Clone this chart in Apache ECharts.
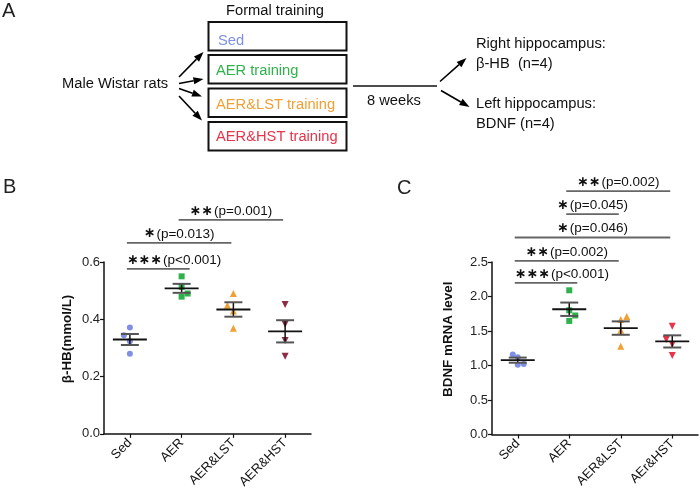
<!DOCTYPE html>
<html><head><meta charset="utf-8">
<script src="https://cdn.jsdelivr.net/npm/echarts@6/dist/echarts.min.js"></script>
<style>html,body{margin:0;padding:0;background:#fff}#c{width:700px;height:491px}</style>
</head><body><div id="c"></div>
<script>
// ---------- data ----------
const categoriesB = ['Sed', 'AER', 'AER&LST', 'AER&HST'];
const categoriesC = ['Sed', 'AER', 'AER&LST', 'AEr&HST'];
// beta-HB (mmol/L), panel B
const hbSed = [0.371, 0.344, 0.323, 0.280];
const hbAER = [0.550, 0.513, 0.490, 0.479];
const hbLST = [0.490, 0.449, 0.429, 0.369];
const hbHST = [0.452, 0.383, 0.326, 0.271];
// BDNF mRNA level, panel C
const bdnfSed = [1.16, 1.12, 1.01, 1.02];
const bdnfAER = [2.09, 1.80, 1.725, 1.646];
const bdnfLST = [1.71, 1.667, 1.512, 1.28];
const bdnfHST = [1.57, 1.377, 1.304, 1.145];
// y axis ticks
const ticksB = [0, 0.2, 0.4, 0.6];
const ticksC = [0, 0.5, 1.0, 1.5, 2.0, 2.5];
// significance brackets: [fromIndex, toIndex, level, stars, p-text]
const bracketsB = [
  [0, 1, 0.576, '∗∗∗', '(p<0.001)'],
  [0, 2, 0.667, '∗', '(p=0.013)'],
  [1, 3, 0.747, '∗∗', '(p=0.001)']
];
const bracketsC = [
  [0, 1, 2.197, '∗∗∗', '(p<0.001)'],
  [0, 2, 2.516, '∗∗', '(p=0.002)'],
  [0, 3, 2.855, '∗', '(p=0.046)'],
  [1, 2, 3.193, '∗', '(p=0.045)'],
  [1, 3, 3.526, '∗∗', '(p=0.002)']
];

// ---------- styles / layout ----------
const FONT = 'Liberation Sans, Arial, sans-serif';
const colB = ['#7f8fe6', '#2fb24c', '#f0a035', '#8c2e45'];
const colC = ['#7f8fe6', '#2fb24c', '#f0a035', '#e8334a'];
const symbols = ['circle', 'rect', 'triangle', 'path://M0,0 L10,0 L5,9 Z'];
const symSizes = [6, 6, 7, 7];
// horizontal dodge (px) of overlapping dots, as in the scatter plot
const dodgeB = [[0, -6, 0, 0], [0, 0, 6, 0], [0, -6, 0, 0], [0, 0, 0, 0]];
const dodgeC = [[-5, 0, 0, 6], [0, 0, 6, 0], [6, 0, 0, 0], [0, -6, 0, 0]];

function stats(a) {
  const n = a.length, m = a.reduce((s, v) => s + v, 0) / n;
  const sd = Math.sqrt(a.reduce((s, v) => s + (v - m) * (v - m), 0) / (n - 1));
  return [m, sd / Math.sqrt(n)];
}

const groupsB = [hbSed, hbAER, hbLST, hbHST];
const groupsC = [bdnfSed, bdnfAER, bdnfLST, bdnfHST];

function scatterSeries(groups, cols, dodge, gi) {
  return groups.map((g, i) => ({
    type: 'scatter', xAxisIndex: gi, yAxisIndex: gi,
    symbol: symbols[i], symbolSize: symSizes[i],
    itemStyle: { color: cols[i], opacity: 1 },
    data: g.map((v, k) => ({ value: [i, v], symbolOffset: [dodge[i][k], 0] })),
    z: 3
  }));
}

function meanSemSeries(groups, gi) {
  return {
    type: 'custom', xAxisIndex: gi, yAxisIndex: gi, z: 4,
    data: groups.map((g, i) => { const s = stats(g); return [i, s[0], s[1]]; }),
    renderItem: function (params, api) {
      const i = api.value(0), m = api.value(1), e = api.value(2);
      const p = api.coord([i, m]), hi = api.coord([i, m + e]), lo = api.coord([i, m - e]);
      return {
        type: 'group', children: [
          { type: 'line', shape: { x1: p[0], y1: hi[1], x2: p[0], y2: lo[1] }, style: { stroke: '#111', lineWidth: 1.5 } },
          { type: 'line', shape: { x1: p[0] - 9, y1: hi[1], x2: p[0] + 9, y2: hi[1] }, style: { stroke: '#555', lineWidth: 2 } },
          { type: 'line', shape: { x1: p[0] - 9, y1: lo[1], x2: p[0] + 9, y2: lo[1] }, style: { stroke: '#555', lineWidth: 2 } },
          { type: 'line', shape: { x1: p[0] - 17, y1: p[1], x2: p[0] + 17, y2: p[1] }, style: { stroke: '#111', lineWidth: 1.8 } }
        ]
      };
    }
  };
}

function bracketSeries(brackets, gi) {
  return {
    type: 'custom', xAxisIndex: gi, yAxisIndex: gi, z: 5, clip: false,
    data: brackets.map(b => [b[0], b[1], b[2]]),
    renderItem: function (params, api) {
      const a = api.value(0), b = api.value(1), y = api.value(2);
      const br = brackets[params.dataIndex];
      const pa = api.coord([a, y]), pb = api.coord([b, y]);
      const adjacent = (b - a) === 1 && a === 0;
      const x1 = pa[0] - 3, x2 = adjacent ? pb[0] + 8 : pb[0] - 2;
      return {
        type: 'group', children: [
          { type: 'line', shape: { x1: x1, y1: pa[1], x2: x2, y2: pa[1] }, style: { stroke: '#666', lineWidth: 1.8 } },
          { type: 'text', style: {
              text: '{s|' + br[3] + '}' + br[4], x: adjacent ? x1 : (x1 + x2) / 2, y: pa[1] - 2,
              textAlign: adjacent ? 'left' : 'center', textVerticalAlign: 'bottom',
              font: '13.5px ' + FONT, fill: '#111',
              rich: { s: { fontFamily: 'DejaVu Sans', fontWeight: 'bold', fontSize: 14, fill: '#111', padding: [0, 1, 0, 0] } } } }
        ]
      };
    }
  };
}

// ---------- panel A diagram ----------
function arrow(x1, y1, x2, y2) {
  const ang = Math.atan2(y2 - y1, x2 - x1), L = 10, W = 3.6;
  const bx = x2 - L * Math.cos(ang), by = y2 - L * Math.sin(ang);
  const nx = -Math.sin(ang) * W, ny = Math.cos(ang) * W;
  return [
    { type: 'line', shape: { x1: x1, y1: y1, x2: bx, y2: by }, style: { stroke: '#000', lineWidth: 1.6 } },
    { type: 'polygon', shape: { points: [[x2, y2], [bx + nx, by + ny], [bx - nx, by - ny]] }, style: { fill: '#000' } }
  ];
}
const boxLabels = ['Sed', 'AER training', 'AER&LST training', 'AER&HST training'];
const boxColors = ['#7f8fe6', '#2fb24c', '#f0a035', '#e8334a'];
const boxTops = [22, 55, 88.5, 122];
const boxTextDy = [19, 16, 16, 14.5];
const graphics = [];
function txt(t, x, y, size, color, align, weight) {
  graphics.push({ type: 'text', style: { text: t, x: x, y: y, font: (weight || 'normal') + ' ' + size + 'px ' + FONT, fill: color || '#111', textAlign: align || 'left', textVerticalAlign: 'middle' } });
}
const FA = 14.7;
txt('A', 2, 11, 20, '#222');
txt('B', 3, 187, 20, '#222');
txt('C', 397, 188, 20, '#222');
txt('Formal training', 275, 11, FA, '#111', 'center');
boxTops.forEach((t, i) => {
  graphics.push({ type: 'rect', shape: { x: 208.5, y: t, width: 138, height: 28.5 }, style: { fill: 'none', stroke: '#111', lineWidth: 2 } });
  txt(boxLabels[i], i === 0 ? 218 : 216, t + boxTextDy[i], FA, boxColors[i]);
});
txt('Male Wistar rats', 62, 84, FA, '#111');
graphics.push(...arrow(179, 77, 203.5, 52));
graphics.push(...arrow(179, 83.5, 203.5, 79));
graphics.push(...arrow(179, 88.5, 202, 96.5));
graphics.push(...arrow(179, 96, 202, 120.5));
graphics.push({ type: 'line', shape: { x1: 353, y1: 86, x2: 437, y2: 86 }, style: { stroke: '#111', lineWidth: 1.6 } });
txt('8 weeks', 367, 101, FA, '#111');
graphics.push(...arrow(440, 81.5, 466.5, 58));
graphics.push(...arrow(441, 90.5, 469.5, 107));
txt('Right hippocampus:', 476, 43.5, FA, '#111');
txt('β-HB  (n=4)', 476, 64, FA, '#111');
txt('Left hippocampus:', 476, 103.5, FA, '#111');
txt('BDNF (n=4)', 476, 123.5, FA, '#111');

// ---------- axes ----------
function xAx(cats, gi) {
  return {
    type: 'category', gridIndex: gi, data: cats, boundaryGap: true,
    axisLine: { lineStyle: { color: '#111', width: 1.5 } },
    axisTick: { show: true, alignWithLabel: true, length: 4, lineStyle: { color: '#111', width: 1.2 } },
    axisLabel: { rotate: 45, fontSize: 13, color: '#111', fontFamily: FONT, margin: 7, interval: 0 },
    splitLine: { show: false }
  };
}
function yAx(ticks, gi, name, gap, fmt) {
  return {
    type: 'value', gridIndex: gi, min: ticks[0], max: ticks[ticks.length - 1], interval: ticks[1] - ticks[0],
    name: name, nameLocation: 'middle', nameRotate: 90, nameGap: gap,
    nameTextStyle: { fontSize: 13.4, fontWeight: 'bold', color: '#111', fontFamily: FONT, padding: [0, 0, 0, 18] },
    axisLine: { show: true, lineStyle: { color: '#111', width: 1.5 } },
    axisTick: { show: true, length: 4, lineStyle: { color: '#111', width: 1.2 } },
    axisLabel: { fontSize: 13, color: '#222', fontFamily: FONT, margin: 4, formatter: v => v.toFixed(fmt) },
    splitLine: { show: false }
  };
}

const chart = echarts.init(document.getElementById('c'), null, { renderer: 'canvas' });
chart.setOption({
  backgroundColor: '#fff',
  animation: false,
  textStyle: { fontFamily: FONT },
  graphic: graphics,
  grid: [
    { left: 104, top: 262, width: 207, height: 173 },
    { left: 492, top: 262, width: 206, height: 172.5 }
  ],
  xAxis: [xAx(categoriesB, 0), xAx(categoriesC, 1)],
  yAxis: [yAx(ticksB, 0, 'β-HB(mmol/L)', 30, 1), yAx(ticksC, 1, 'BDNF mRNA level', 37, 1)],
  series: [
    ...scatterSeries(groupsB, colB, dodgeB, 0),
    ...scatterSeries(groupsC, colC, dodgeC, 1),
    meanSemSeries(groupsB, 0),
    meanSemSeries(groupsC, 1),
    bracketSeries(bracketsB, 0),
    bracketSeries(bracketsC, 1)
  ]
});
</script></body></html>
